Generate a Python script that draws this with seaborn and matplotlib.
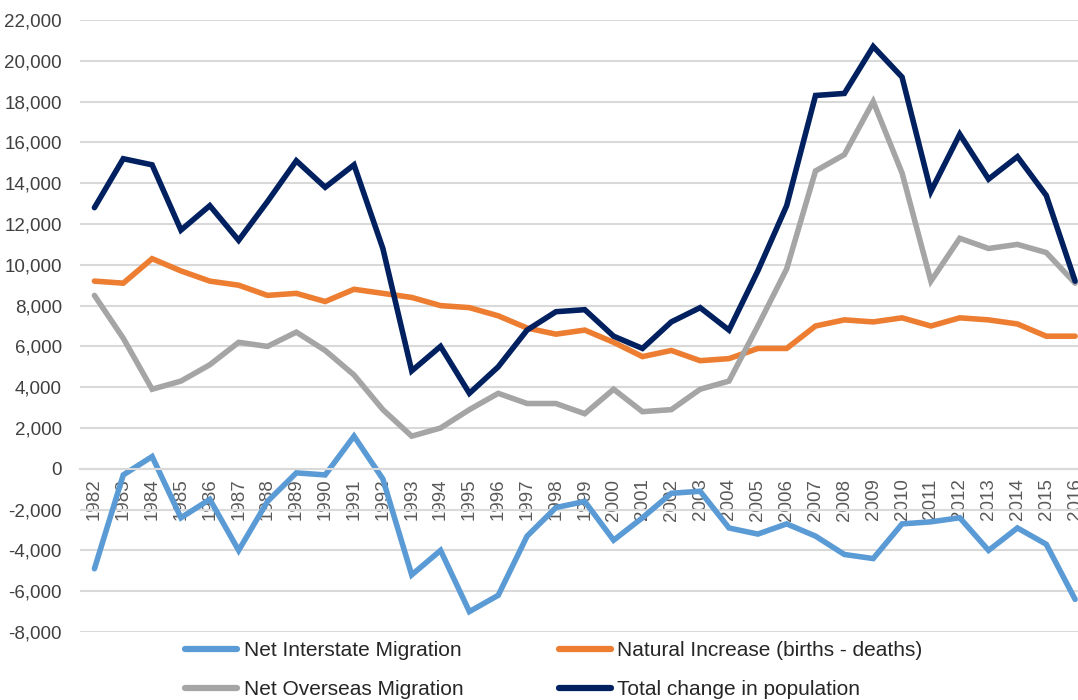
import numpy as np
import pandas as pd
import matplotlib
matplotlib.use('agg')
import matplotlib.pyplot as plt
import seaborn as sns

# Data (persons)
years = list(range(1982, 2017))
net_interstate = [-4900, -300, 600, -2400, -1500, -4000, -1600, -200, -300, 1600,
                  -500, -5200, -4000, -7000, -6200, -3300, -1900, -1600, -3500, -2400,
                  -1200, -1100, -2900, -3200, -2700, -3300, -4200, -4400, -2700, -2600,
                  -2400, -4000, -2900, -3700, -6400]
natural_increase = [9200, 9100, 10300, 9700, 9200, 9000, 8500, 8600, 8200, 8800,
                    8600, 8400, 8000, 7900, 7500, 6900, 6600, 6800, 6200, 5500,
                    5800, 5300, 5400, 5900, 5900, 7000, 7300, 7200, 7400, 7000,
                    7400, 7300, 7100, 6500, 6500]
net_overseas = [8500, 6400, 3900, 4300, 5100, 6200, 6000, 6700, 5800, 4600,
                2900, 1600, 2000, 2900, 3700, 3200, 3200, 2700, 3900, 2800,
                2900, 3900, 4300, 7000, 9800, 14600, 15400, 18000, 14500, 9200,
                11300, 10800, 11000, 10600, 9100]
total_change = [12800, 15200, 14900, 11700, 12900, 11200, 13100, 15100, 13800, 14900,
                10800, 4800, 6000, 3700, 5000, 6800, 7700, 7800, 6500, 5900,
                7200, 7900, 6800, 9700, 12900, 18300, 18400, 20700, 19200, 13600,
                16400, 14200, 15300, 13400, 9200]

series_names = ['Net Interstate Migration', 'Natural Increase (births - deaths)',
                'Net Overseas Migration', 'Total change in population']
colours = ['#5B9BD5', '#ED7D31', '#A5A5A5', '#002060']

df = pd.DataFrame({'Year': years,
                   series_names[0]: net_interstate,
                   series_names[1]: natural_increase,
                   series_names[2]: net_overseas,
                   series_names[3]: total_change})
long_df = df.melt(id_vars='Year', var_name='Series', value_name='Persons')

sns.set_style('white')
plt.rcParams['font.family'] = ['Liberation Sans', 'DejaVu Sans']

fig = plt.figure(figsize=(10.78, 7), dpi=100)
ax = fig.add_axes([80 / 1078, 68 / 700, 1 - 80 / 1078, (632 - 20) / 700])

sns.lineplot(data=long_df, x='Year', y='Persons', hue='Series',
             hue_order=series_names, palette=dict(zip(series_names, colours)),
             ax=ax, legend=True)
for line in ax.lines:
    line.set_linewidth(4.0)
    line.set_solid_joinstyle('miter')

ax.set_xlabel('')
ax.set_ylabel('')

# y axis
ax.set_yticks(np.arange(-8000, 22001, 2000))
ax.yaxis.set_major_formatter(matplotlib.ticker.FuncFormatter(lambda v, p: f'{int(v):,}'))
ax.tick_params(axis='y', length=0, labelsize=13.5, labelcolor='#404040', pad=13)
ax.grid(axis='y', color='#D9D9D9', linewidth=1.5)
ax.set_axisbelow(True)

# category-style x axis crossing at zero
for s in ['left', 'right', 'top']:
    ax.spines[s].set_visible(False)
ax.spines['bottom'].set_position(('data', 0))
ax.spines['bottom'].set_color('#D9D9D9')
ax.spines['bottom'].set_linewidth(1.5)
ax.set_xticks(years)
ax.set_xticklabels([str(y) for y in years], rotation=90, va='top')
ax.tick_params(axis='x', length=0, labelsize=13.5, labelcolor='#595959', pad=7)
ax.set_xticks([y - 0.5 for y in years], minor=True)
ax.tick_params(axis='x', which='minor', length=5, width=1.5, color='#D9D9D9', direction='out')

ax.set_xlim(1981.5, 2016.1)
ax.set_ylim(-8000, 22000)

# legend, two columns below the plot
handles, labels = ax.get_legend_handles_labels()
order = [0, 2, 1, 3]
ax.legend([handles[i] for i in order], [labels[i] for i in order],
          ncol=2, loc='center', bbox_to_anchor=(554 / 1078, 1 - 670 / 700),
          bbox_transform=fig.transFigure, frameon=False, fontsize=15,
          handlelength=2.5, handletextpad=0.3, columnspacing=4.6,
          labelspacing=0.95, borderpad=0)
for line in ax.get_legend().get_lines():
    line.set_linewidth(4.5)

fig.savefig('out.png', dpi=100)
